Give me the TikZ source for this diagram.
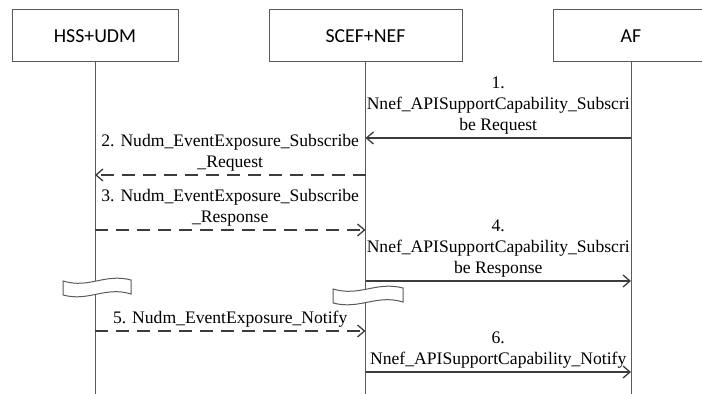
\documentclass[tikz,border=0pt]{standalone}
\usepackage{fontspec}
\setmainfont{Liberation Serif}
\newfontfamily\lblfont{Liberation Serif}
\newfontfamily\boxfont{Carlito}
\usepackage{tikz}
\usetikzlibrary{arrows.meta}
\definecolor{LineGray}{RGB}{90,90,90}
\definecolor{ArrowGray}{RGB}{60,60,60}

\begin{document}
\begin{tikzpicture}[x=0.5pt,y=-0.5pt,
  entity/.style={draw=LineGray,line width=0.5pt,minimum height=26pt,
                 inner sep=0pt,font=\boxfont\fontsize{9.9}{12}\selectfont},
  life/.style={draw=LineGray,line width=0.5pt},
  msg/.style={draw=ArrowGray,line width=0.65pt,
              -{Straight Barb[length=3.5pt,width=6pt]}},
  reply/.style={msg,dash pattern=on 6.5pt off 4pt},
  lbl/.style={font=\lblfont\fontsize{8.8}{10.4}\selectfont,align=center,inner sep=1.5pt},
  gap/.style={draw=LineGray,fill=white,line width=0.5pt},
]
\useasboundingbox (0,0) rectangle (702,394);
\node[entity,minimum width=83pt] (hss) at (95,36) {HSS+UDM};
\node[entity,minimum width=96.5pt] (scef) at (365.5,36) {SCEF+NEF};
\node[entity,minimum width=78pt] (af) at (631,36) {AF};
% lifelines
\draw[life] (hss.south) -- (hss.south |- 0,394);
\draw[life] (scef.south) -- (scef.south |- 0,394);
\draw[life] (af.south) -- (af.south |- 0,394);
% breaks
\draw[gap,shift={(97,288)}] (-34,-7) .. controls (-8,1) and (8,-15) .. (34,-8)
  -- (34,6) .. controls (8,-2) and (-8,14) .. (-34,7) -- cycle;
\draw[gap,shift={(368,296)}] (-35,-7) .. controls (-8,1) and (8,-15) .. (35,-8)
  -- (35,6) .. controls (8,-2) and (-8,14) .. (-35,7) -- cycle;
% messages
\draw[msg] (af.south |- 0,138) -- (scef.south |- 0,138)
  node[lbl,midway,above]{1.\\Nnef\_APISupportCapability\_Subscri\\be Request};
\draw[reply] (scef.south |- 0,175) -- (hss.south |- 0,175)
  node[lbl,midway,above]{2. Nudm\_EventExposure\_Subscribe\\\_Request};
\draw[reply] (hss.south |- 0,230) -- (scef.south |- 0,230)
  node[lbl,midway,above]{3. Nudm\_EventExposure\_Subscribe\\\_Response};
\draw[msg] (scef.south |- 0,281) -- (af.south |- 0,281)
  node[lbl,midway,above]{4.\\Nnef\_APISupportCapability\_Subscri\\be Response};
\draw[reply] (hss.south |- 0,331) -- (scef.south |- 0,331)
  node[lbl,midway,above]{5. Nudm\_EventExposure\_Notify};
\draw[msg] (scef.south |- 0,372) -- (af.south |- 0,372)
  node[lbl,midway,above]{6.\\Nnef\_APISupportCapability\_Notify};
\end{tikzpicture}
\end{document}
